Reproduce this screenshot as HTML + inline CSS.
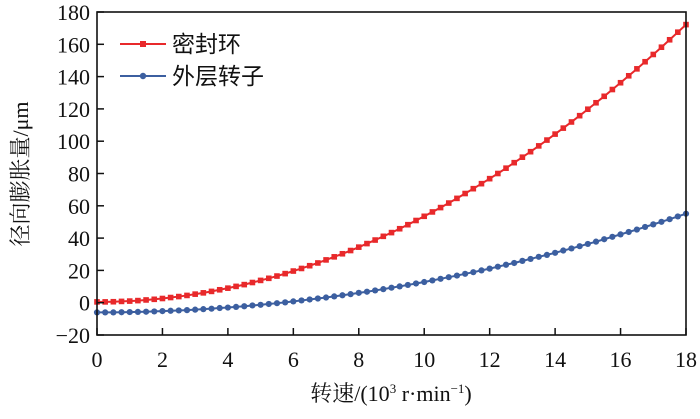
<!DOCTYPE html>
<html><head><meta charset="utf-8"><style>
body{margin:0;background:#fff}
svg text{font-family:"Liberation Serif","Noto Serif CJK SC",serif;fill:#111}
</style></head><body>
<svg id="c" width="700" height="414"></svg>
<script>
const xTicks=[0,2,4,6,8,10,12,14,16,18];
const yTicks=[-20,0,20,40,60,80,100,120,140,160,180];
const sealRing=[0.5,0.5,0.6,0.8,1.0,1.3,1.7,2.1,2.6,3.2,3.8,4.5,5.3,6.1,7.0,8.0,9.0,10.1,11.2,12.5,13.8,15.1,16.5,18.0,19.6,21.2,22.9,24.6,26.5,28.4,30.3,32.3,34.4,36.6,38.8,41.1,43.4,45.8,48.3,50.9,53.5,56.2,58.9,61.7,64.6,67.6,70.6,73.7,76.8,80.0,83.3,86.7,90.1,93.5,97.1,100.7,104.4,108.1,111.9,115.8,119.8,123.8,127.8,132.0,136.2,140.5,144.8,149.2,153.7,158.2,162.8,167.5,172.2];
const outerRotor=[-6.0,-6.0,-6.0,-5.9,-5.8,-5.7,-5.6,-5.4,-5.2,-5.0,-4.8,-4.6,-4.3,-4.0,-3.7,-3.3,-3.0,-2.6,-2.2,-1.7,-1.3,-0.8,-0.3,0.2,0.8,1.4,2.0,2.6,3.2,3.9,4.6,5.3,6.1,6.8,7.6,8.4,9.3,10.1,11.0,11.9,12.8,13.8,14.8,15.8,16.8,17.9,18.9,20.0,21.1,22.3,23.5,24.6,25.9,27.1,28.4,29.6,30.9,32.3,33.6,35.0,36.4,37.8,39.3,40.8,42.3,43.8,45.3,46.9,48.5,50.1,51.7,53.4,55.1];
const speedStep=0.25;
const X0=97,X1=686,Y0=335,Y1=12;
const sx=v=>X0+(v-0)/(18-0)*(X1-X0);
const sy=v=>Y0-(v+20)/(200)*(Y0-Y1);
const svg=document.getElementById('c');
const NS='http://www.w3.org/2000/svg';
function mk(t,a,p){const e=document.createElementNS(NS,t);for(const k in a)e.setAttribute(k,a[k]);(p||svg).appendChild(e);return e;}
// series
function series(vals,color,shape,name){
  const g=mk('g',{});
  
  
  const pts=vals.map((v,i)=>sx(i*speedStep)+','+sy(v)).join(' ');
  const l=mk('polyline',{points:pts,fill:'none',stroke:color,'stroke-width':2},g);
  
  
  vals.forEach((v,i)=>{
    const x=sx(i*speedStep),y=sy(v);
    let m;
    if(shape==='sq')m=mk('rect',{x:x-2.8,y:y-2.8,width:5.6,height:5.6,fill:color},g);
    else m=mk('circle',{cx:x,cy:y,r:3.1,fill:color},g);
    
    
  });
}
series(outerRotor,'#3c5fa0','ci','outer-rotor-series');
series(sealRing,'#e8292b','sq','seal-ring-series');
// frame
const f=mk('rect',{x:X0,y:Y1,width:X1-X0,height:Y0-Y1,fill:'none',stroke:'#111','stroke-width':1.6});


xTicks.forEach(t=>{
  const x=sx(t);
  const tk=mk('line',{x1:x,x2:x,y1:Y0,y2:Y0-7,stroke:'#111','stroke-width':1.5});
  
  
  const tx=mk('text',{x:x,y:367,'text-anchor':'middle','font-size':22});
  tx.textContent=t;
  
  
});
yTicks.forEach(t=>{
  const y=sy(t);
  const tk=mk('line',{x1:X0,x2:X0+7,y1:y,y2:y,stroke:'#111','stroke-width':1.5});
  
  
  const tx=mk('text',{x:90,y:y+8,'text-anchor':'end','font-size':22});
  tx.textContent=t<0?'\u2212'+(-t):t;
  
  
});
const xt=mk('text',{x:391,y:401,'text-anchor':'middle','font-size':22});
xt.innerHTML='<tspan>转速/(10</tspan><tspan font-size="13" dy="-8">3</tspan><tspan dy="8"> r·min</tspan><tspan font-size="13" dy="-8">−1</tspan><tspan dy="8">)</tspan>';


const yt=mk('text',{x:0,y:0,'text-anchor':'middle','font-size':22,transform:'translate(28,174) rotate(-90)'});
yt.textContent='径向膨胀量/μm';


// legend
[['密封环','#e8292b','sq',44],['外层转子','#3c5fa0','ci',76]].forEach(([lab,c,s,y])=>{
  const g=mk('g',{});
  
  
  mk('line',{x1:120,x2:166,y1:y,y2:y,stroke:c,'stroke-width':2},g);
  if(s==='sq')mk('rect',{x:140,y:y-3,width:6,height:6,fill:c},g);
  else mk('circle',{cx:143,cy:y,r:3.2,fill:c},g);
  const t=mk('text',{x:172,y:y+8,'font-size':23},g);
  t.style.fontFamily='"Noto Sans CJK SC",sans-serif';
  t.textContent=lab;
});
</script>
</body></html>
